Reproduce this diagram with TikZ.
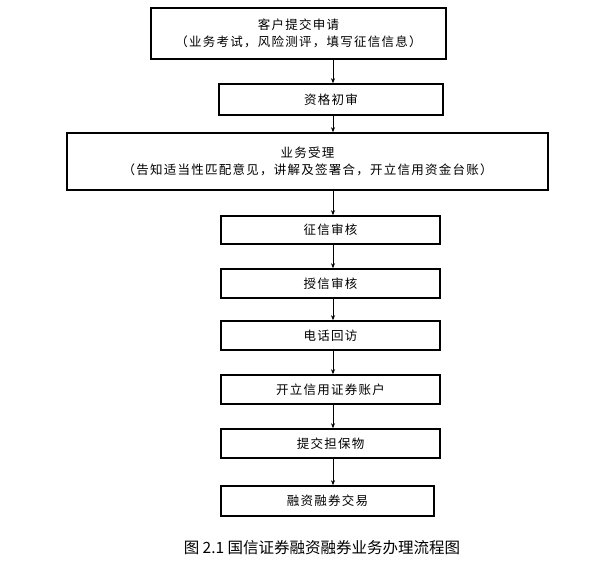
\documentclass[tikz,border=0pt]{standalone}
\usepackage{fontspec}
\newfontfamily\cjk[LetterSpace=10]{Noto Sans CJK SC}
\newfontfamily\cjkc{Noto Sans CJK SC}
\usetikzlibrary{arrows.meta}
\begin{document}
\begin{tikzpicture}[x=1pt,y=-1pt,
  box/.style={draw,line width=1.6pt,font=\cjk\fontsize{12.5}{17}\selectfont,align=center,inner sep=0pt},
  arr/.style={-{Stealth[length=5pt,width=4pt]},line width=0.6pt}]
\useasboundingbox (0,0) rectangle (601,562);
\newcommand{\bx}[6]{\node[box,minimum width=#4-#2,minimum height=#5-#3] (#1) at ({(#2+#4)/2},{(#3+#5)/2}) {#6};}
\bx{a}{151}{8}{446}{59}{客户提交申请\\（业务考试，风险测评，填写征信信息）}
\bx{b}{219}{84}{443}{115}{资格初审}
\bx{c}{67}{133}{548}{190}{业务受理\\（告知适当性匹配意见，讲解及签署合，开立信用资金台账）}
\bx{d}{221}{216}{440}{244}{征信审核}
\bx{e}{221}{269}{440}{298}{授信审核}
\bx{f}{221}{321}{440}{350}{电话回访}
\bx{g}{221}{375}{440}{404}{开立信用证券账户}
\bx{h}{221}{429}{440}{458}{提交担保物}
\bx{i}{221}{486}{434}{516}{融资融券交易}
\foreach \p/\q in {a/b,b/c,c/d,d/e,e/f,f/g,g/h,h/i}
  \draw[arr] (\p.south -| 333,0) -- (\q.north -| 333,0);
\node[font=\cjkc\fontsize{15.5}{18}\selectfont] (cap) at (322,548) {图 2.1 国信证券融资融券业务办理流程图};
\end{tikzpicture}
\end{document}
